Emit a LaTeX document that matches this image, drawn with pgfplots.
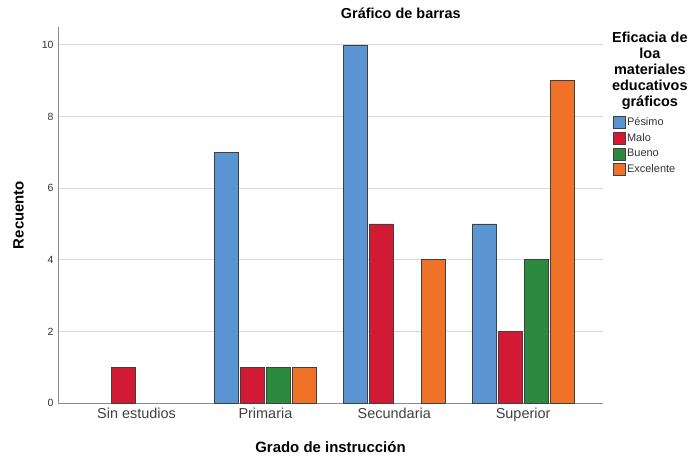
\documentclass[border=0pt]{standalone}
\usepackage{fontspec}
\setmainfont{Liberation Sans}
\usepackage{pgfplots}
\pgfplotsset{compat=1.18}
\definecolor{cPes}{RGB}{90,148,209}
\definecolor{cMal}{RGB}{210,26,52}
\definecolor{cBue}{RGB}{44,138,64}
\definecolor{cExc}{RGB}{240,113,40}
\pgfplotsset{mylegend/.style={legend image code/.code={\draw[##1,draw=black!75,line width=0.6pt] (0bp,-6bp) rectangle (12bp,6bp);}}}
\begin{document}
\begin{tikzpicture}
\begin{axis}[
  scale only axis, width=545bp, height=376bp,
  xmin=-0.61, xmax=3.62, ymin=0, ymax=10.5,
  ybar=2bp, bar width=24bp,
  axis x line*=bottom, axis y line*=left,
  axis line style={draw=black!45, line width=0.9pt, -},
  xtick={0,1,2,3},
  xticklabels={Sin estudios, Primaria, Secundaria, Superior},
  ytick={0,2,...,10},
  ymajorgrids, grid style={draw=black!15, line width=0.9pt},
  major tick length=0pt,
  /pgf/number format/assume math mode=true,
  xticklabel style={font=\fontsize{14.5}{16}\selectfont, text=black!75, yshift=-1.5bp},
  yticklabel style={font=\fontsize{10.5}{12}\selectfont, text=black!80, xshift=-1bp},
  xlabel={Grado de instrucción},
  ylabel={Recuento},
  every axis x label/.style={at={(axis description cs:0.5,-0.117)}, anchor=center, font=\bfseries\fontsize{15}{17}\selectfont},
  every axis y label/.style={at={(axis description cs:-0.0725,0.5)}, anchor=center, rotate=90, font=\bfseries\fontsize{15}{17}\selectfont},
  legend style={at={(1.018,0.763)}, anchor=north west, draw=none, fill=none,
    font=\fontsize{11}{13}\selectfont, row sep=3bp, inner sep=0pt,
    nodes={inner sep=1.5bp, text=black!80}},
  legend cell align=left,
  clip=false,
]
\addplot[fill=cPes, draw=black!75, line width=0.6pt, mylegend] coordinates {(1,7) (2,10) (3,5)};
\addplot[fill=cMal, draw=black!75, line width=0.6pt, mylegend] coordinates {(0,1) (1,1) (2,5) (3,2)};
\addplot[fill=cBue, draw=black!75, line width=0.6pt, mylegend] coordinates {(1,1) (3,4)};
\addplot[fill=cExc, draw=black!75, line width=0.6pt, mylegend] coordinates {(1,1) (2,4) (3,9)};
\legend{Pésimo, Malo, Bueno, Excelente}
\node[anchor=north, align=center, font=\bfseries\fontsize{14.5}{16}\selectfont] at (rel axis cs:1.086,0.995) {Eficacia de\\loa\\materiales\\educativos\\gráficos};
\node[font=\bfseries\fontsize{14.5}{16}\selectfont] at (rel axis cs:0.629,1.037) {Gráfico de barras};
\end{axis}
\path (current axis.south west) ++(-58bp,-58bp) rectangle ++(691bp,461bp);
\end{tikzpicture}
\end{document}
